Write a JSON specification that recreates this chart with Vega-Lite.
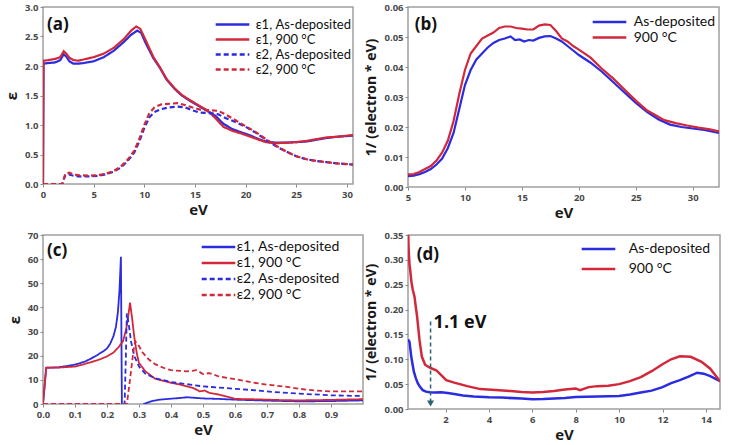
{
"$schema": "https://vega.github.io/schema/vega-lite/v6.json",
"padding": {"left": 3, "top": 1, "right": 5, "bottom": 2},
"bounds": "flush",
"columns": 2,
"spacing": {"row": 48, "column": 45},
"resolve": {"scale": {"color": "independent", "strokeDash": "independent"}, "legend": {"color": "independent", "strokeDash": "independent"}},
"config": {
  "font": "Lato",
  "view": {"stroke": "#a0a0a0", "strokeWidth": 1.5},
  "axis": {"grid": false, "domain": false, "tickCount": 20, "tickColor": "#8a8a8a", "tickSize": 3, "labelFont": "Open Sans", "labelFontSize": 9.5, "labelFontWeight": "bold", "labelColor": "#4a4a4a", "labelPadding": 2, "labelFlush": false, "labelOverlap": false, "titleFont": "Open Sans", "titleFontSize": 15, "titleFontWeight": "bold", "titleColor": "#1a1a1a"},
  "axisX": {"titlePadding": 4},
  "axisY": {"titlePadding": 5},
  "legend": {"orient": "none", "symbolType": "M-2.8,0H2.8", "symbolSize": 144, "symbolStrokeWidth": 2.5, "labelFont": "Lato", "labelColor": "#111111", "padding": 0},
  "text": {"font": "Open Sans"}
},
"datasets": {
"a": [
{"x":0,"y":0,"s":"ε1, As-deposited"},{"x":0.05,"y":2.04,"s":"ε1, As-deposited"},{"x":0.5,"y":2.05,"s":"ε1, As-deposited"},{"x":1.2,"y":2.06,"s":"ε1, As-deposited"},{"x":1.7,"y":2.1,"s":"ε1, As-deposited"},{"x":2.05,"y":2.2,"s":"ε1, As-deposited"},{"x":2.3,"y":2.16,"s":"ε1, As-deposited"},{"x":2.6,"y":2.08,"s":"ε1, As-deposited"},{"x":3.0,"y":2.04,"s":"ε1, As-deposited"},{"x":3.5,"y":2.04,"s":"ε1, As-deposited"},{"x":4,"y":2.05,"s":"ε1, As-deposited"},{"x":5,"y":2.08,"s":"ε1, As-deposited"},{"x":6,"y":2.15,"s":"ε1, As-deposited"},{"x":7,"y":2.26,"s":"ε1, As-deposited"},{"x":8,"y":2.41,"s":"ε1, As-deposited"},{"x":8.7,"y":2.53,"s":"ε1, As-deposited"},{"x":9.3,"y":2.6,"s":"ε1, As-deposited"},{"x":9.7,"y":2.56,"s":"ε1, As-deposited"},{"x":10.1,"y":2.4,"s":"ε1, As-deposited"},{"x":10.9,"y":2.13,"s":"ε1, As-deposited"},{"x":11.5,"y":1.98,"s":"ε1, As-deposited"},{"x":12.2,"y":1.77,"s":"ε1, As-deposited"},{"x":13,"y":1.61,"s":"ε1, As-deposited"},{"x":13.7,"y":1.5,"s":"ε1, As-deposited"},{"x":14.5,"y":1.41,"s":"ε1, As-deposited"},{"x":15.3,"y":1.33,"s":"ε1, As-deposited"},{"x":16.2,"y":1.24,"s":"ε1, As-deposited"},{"x":17,"y":1.16,"s":"ε1, As-deposited"},{"x":17.8,"y":1.02,"s":"ε1, As-deposited"},{"x":18.7,"y":0.93,"s":"ε1, As-deposited"},{"x":19.5,"y":0.88,"s":"ε1, As-deposited"},{"x":20.5,"y":0.82,"s":"ε1, As-deposited"},{"x":21.3,"y":0.76,"s":"ε1, As-deposited"},{"x":22,"y":0.72,"s":"ε1, As-deposited"},{"x":23,"y":0.7,"s":"ε1, As-deposited"},{"x":24,"y":0.7,"s":"ε1, As-deposited"},{"x":25,"y":0.71,"s":"ε1, As-deposited"},{"x":26,"y":0.72,"s":"ε1, As-deposited"},{"x":27,"y":0.75,"s":"ε1, As-deposited"},{"x":28,"y":0.78,"s":"ε1, As-deposited"},{"x":29,"y":0.8,"s":"ε1, As-deposited"},{"x":30.6,"y":0.82,"s":"ε1, As-deposited"},
{"x":0,"y":0,"s":"ε1, 900 °C"},{"x":0.05,"y":2.09,"s":"ε1, 900 °C"},{"x":0.5,"y":2.1,"s":"ε1, 900 °C"},{"x":1.2,"y":2.12,"s":"ε1, 900 °C"},{"x":1.7,"y":2.15,"s":"ε1, 900 °C"},{"x":2.05,"y":2.25,"s":"ε1, 900 °C"},{"x":2.3,"y":2.21,"s":"ε1, 900 °C"},{"x":2.6,"y":2.14,"s":"ε1, 900 °C"},{"x":3.0,"y":2.1,"s":"ε1, 900 °C"},{"x":3.5,"y":2.09,"s":"ε1, 900 °C"},{"x":4,"y":2.11,"s":"ε1, 900 °C"},{"x":5,"y":2.15,"s":"ε1, 900 °C"},{"x":6,"y":2.21,"s":"ε1, 900 °C"},{"x":7,"y":2.31,"s":"ε1, 900 °C"},{"x":8,"y":2.46,"s":"ε1, 900 °C"},{"x":8.7,"y":2.6,"s":"ε1, 900 °C"},{"x":9.2,"y":2.67,"s":"ε1, 900 °C"},{"x":9.6,"y":2.63,"s":"ε1, 900 °C"},{"x":10.1,"y":2.45,"s":"ε1, 900 °C"},{"x":10.9,"y":2.15,"s":"ε1, 900 °C"},{"x":11.5,"y":1.99,"s":"ε1, 900 °C"},{"x":12.2,"y":1.78,"s":"ε1, 900 °C"},{"x":13,"y":1.62,"s":"ε1, 900 °C"},{"x":13.7,"y":1.51,"s":"ε1, 900 °C"},{"x":14.5,"y":1.42,"s":"ε1, 900 °C"},{"x":15.3,"y":1.34,"s":"ε1, 900 °C"},{"x":16.2,"y":1.25,"s":"ε1, 900 °C"},{"x":17,"y":1.12,"s":"ε1, 900 °C"},{"x":17.8,"y":0.97,"s":"ε1, 900 °C"},{"x":18.7,"y":0.9,"s":"ε1, 900 °C"},{"x":19.5,"y":0.86,"s":"ε1, 900 °C"},{"x":20.5,"y":0.8,"s":"ε1, 900 °C"},{"x":21.3,"y":0.75,"s":"ε1, 900 °C"},{"x":22,"y":0.71,"s":"ε1, 900 °C"},{"x":23,"y":0.69,"s":"ε1, 900 °C"},{"x":24,"y":0.7,"s":"ε1, 900 °C"},{"x":25,"y":0.71,"s":"ε1, 900 °C"},{"x":26,"y":0.73,"s":"ε1, 900 °C"},{"x":27,"y":0.76,"s":"ε1, 900 °C"},{"x":28,"y":0.79,"s":"ε1, 900 °C"},{"x":29,"y":0.8,"s":"ε1, 900 °C"},{"x":30.6,"y":0.83,"s":"ε1, 900 °C"},
{"x":0,"y":0,"s":"ε2, As-deposited"},{"x":1.9,"y":0,"s":"ε2, As-deposited"},{"x":2.2,"y":0.15,"s":"ε2, As-deposited"},{"x":2.6,"y":0.16,"s":"ε2, As-deposited"},{"x":3.0,"y":0.14,"s":"ε2, As-deposited"},{"x":3.5,"y":0.13,"s":"ε2, As-deposited"},{"x":4.5,"y":0.13,"s":"ε2, As-deposited"},{"x":5.5,"y":0.14,"s":"ε2, As-deposited"},{"x":6.3,"y":0.17,"s":"ε2, As-deposited"},{"x":7,"y":0.21,"s":"ε2, As-deposited"},{"x":7.7,"y":0.28,"s":"ε2, As-deposited"},{"x":8.3,"y":0.38,"s":"ε2, As-deposited"},{"x":9,"y":0.53,"s":"ε2, As-deposited"},{"x":9.5,"y":0.72,"s":"ε2, As-deposited"},{"x":10,"y":0.95,"s":"ε2, As-deposited"},{"x":10.5,"y":1.13,"s":"ε2, As-deposited"},{"x":11,"y":1.22,"s":"ε2, As-deposited"},{"x":11.7,"y":1.27,"s":"ε2, As-deposited"},{"x":12.5,"y":1.3,"s":"ε2, As-deposited"},{"x":13.3,"y":1.31,"s":"ε2, As-deposited"},{"x":14,"y":1.3,"s":"ε2, As-deposited"},{"x":14.7,"y":1.25,"s":"ε2, As-deposited"},{"x":15.5,"y":1.21,"s":"ε2, As-deposited"},{"x":16.5,"y":1.2,"s":"ε2, As-deposited"},{"x":17.3,"y":1.18,"s":"ε2, As-deposited"},{"x":18,"y":1.12,"s":"ε2, As-deposited"},{"x":19,"y":1.05,"s":"ε2, As-deposited"},{"x":20,"y":0.97,"s":"ε2, As-deposited"},{"x":21,"y":0.87,"s":"ε2, As-deposited"},{"x":22,"y":0.75,"s":"ε2, As-deposited"},{"x":23,"y":0.64,"s":"ε2, As-deposited"},{"x":24,"y":0.55,"s":"ε2, As-deposited"},{"x":25,"y":0.47,"s":"ε2, As-deposited"},{"x":26,"y":0.42,"s":"ε2, As-deposited"},{"x":27,"y":0.39,"s":"ε2, As-deposited"},{"x":28,"y":0.37,"s":"ε2, As-deposited"},{"x":29,"y":0.35,"s":"ε2, As-deposited"},{"x":30.6,"y":0.33,"s":"ε2, As-deposited"},
{"x":0,"y":0,"s":"ε2, 900 °C"},{"x":1.9,"y":0,"s":"ε2, 900 °C"},{"x":2.2,"y":0.17,"s":"ε2, 900 °C"},{"x":2.6,"y":0.19,"s":"ε2, 900 °C"},{"x":3.0,"y":0.16,"s":"ε2, 900 °C"},{"x":3.5,"y":0.15,"s":"ε2, 900 °C"},{"x":4.5,"y":0.14,"s":"ε2, 900 °C"},{"x":5.5,"y":0.15,"s":"ε2, 900 °C"},{"x":6.3,"y":0.18,"s":"ε2, 900 °C"},{"x":7,"y":0.22,"s":"ε2, 900 °C"},{"x":7.7,"y":0.3,"s":"ε2, 900 °C"},{"x":8.3,"y":0.4,"s":"ε2, 900 °C"},{"x":9,"y":0.56,"s":"ε2, 900 °C"},{"x":9.5,"y":0.76,"s":"ε2, 900 °C"},{"x":10,"y":1.0,"s":"ε2, 900 °C"},{"x":10.5,"y":1.2,"s":"ε2, 900 °C"},{"x":11,"y":1.3,"s":"ε2, 900 °C"},{"x":11.7,"y":1.35,"s":"ε2, 900 °C"},{"x":12.5,"y":1.36,"s":"ε2, 900 °C"},{"x":13.3,"y":1.37,"s":"ε2, 900 °C"},{"x":14,"y":1.34,"s":"ε2, 900 °C"},{"x":14.7,"y":1.3,"s":"ε2, 900 °C"},{"x":15.5,"y":1.26,"s":"ε2, 900 °C"},{"x":16.5,"y":1.25,"s":"ε2, 900 °C"},{"x":17.3,"y":1.24,"s":"ε2, 900 °C"},{"x":18,"y":1.18,"s":"ε2, 900 °C"},{"x":19,"y":1.08,"s":"ε2, 900 °C"},{"x":20,"y":0.98,"s":"ε2, 900 °C"},{"x":21,"y":0.88,"s":"ε2, 900 °C"},{"x":22,"y":0.76,"s":"ε2, 900 °C"},{"x":23,"y":0.65,"s":"ε2, 900 °C"},{"x":24,"y":0.55,"s":"ε2, 900 °C"},{"x":25,"y":0.47,"s":"ε2, 900 °C"},{"x":26,"y":0.42,"s":"ε2, 900 °C"},{"x":27,"y":0.39,"s":"ε2, 900 °C"},{"x":28,"y":0.37,"s":"ε2, 900 °C"},{"x":29,"y":0.35,"s":"ε2, 900 °C"},{"x":30.6,"y":0.33,"s":"ε2, 900 °C"}
],
"b": [
{"x":5,"y":0.0036,"s":"As-deposited"},{"x":5.5,"y":0.0038,"s":"As-deposited"},{"x":6,"y":0.0043,"s":"As-deposited"},{"x":6.5,"y":0.005,"s":"As-deposited"},{"x":7,"y":0.006,"s":"As-deposited"},{"x":7.5,"y":0.0075,"s":"As-deposited"},{"x":8,"y":0.0095,"s":"As-deposited"},{"x":8.5,"y":0.013,"s":"As-deposited"},{"x":9,"y":0.018,"s":"As-deposited"},{"x":9.5,"y":0.026,"s":"As-deposited"},{"x":10,"y":0.034,"s":"As-deposited"},{"x":10.5,"y":0.039,"s":"As-deposited"},{"x":11,"y":0.0425,"s":"As-deposited"},{"x":11.5,"y":0.0445,"s":"As-deposited"},{"x":12,"y":0.0465,"s":"As-deposited"},{"x":12.5,"y":0.048,"s":"As-deposited"},{"x":13,"y":0.049,"s":"As-deposited"},{"x":13.5,"y":0.0495,"s":"As-deposited"},{"x":14,"y":0.0502,"s":"As-deposited"},{"x":14.4,"y":0.049,"s":"As-deposited"},{"x":14.8,"y":0.0492,"s":"As-deposited"},{"x":15.2,"y":0.0485,"s":"As-deposited"},{"x":15.6,"y":0.049,"s":"As-deposited"},{"x":16,"y":0.0488,"s":"As-deposited"},{"x":16.5,"y":0.0497,"s":"As-deposited"},{"x":17,"y":0.0502,"s":"As-deposited"},{"x":17.5,"y":0.0503,"s":"As-deposited"},{"x":18,"y":0.0495,"s":"As-deposited"},{"x":18.5,"y":0.0485,"s":"As-deposited"},{"x":19,"y":0.047,"s":"As-deposited"},{"x":19.5,"y":0.0455,"s":"As-deposited"},{"x":20,"y":0.044,"s":"As-deposited"},{"x":21,"y":0.0415,"s":"As-deposited"},{"x":22,"y":0.0385,"s":"As-deposited"},{"x":23,"y":0.035,"s":"As-deposited"},{"x":24,"y":0.0315,"s":"As-deposited"},{"x":25,"y":0.028,"s":"As-deposited"},{"x":26,"y":0.025,"s":"As-deposited"},{"x":27,"y":0.0225,"s":"As-deposited"},{"x":28,"y":0.0208,"s":"As-deposited"},{"x":29,"y":0.02,"s":"As-deposited"},{"x":30,"y":0.0195,"s":"As-deposited"},{"x":31,"y":0.019,"s":"As-deposited"},{"x":32.3,"y":0.018,"s":"As-deposited"},
{"x":5,"y":0.0042,"s":"900 °C"},{"x":5.5,"y":0.0043,"s":"900 °C"},{"x":6,"y":0.005,"s":"900 °C"},{"x":6.5,"y":0.006,"s":"900 °C"},{"x":7,"y":0.007,"s":"900 °C"},{"x":7.5,"y":0.0088,"s":"900 °C"},{"x":8,"y":0.0115,"s":"900 °C"},{"x":8.5,"y":0.0155,"s":"900 °C"},{"x":9,"y":0.022,"s":"900 °C"},{"x":9.5,"y":0.031,"s":"900 °C"},{"x":10,"y":0.039,"s":"900 °C"},{"x":10.5,"y":0.0445,"s":"900 °C"},{"x":11,"y":0.047,"s":"900 °C"},{"x":11.5,"y":0.0495,"s":"900 °C"},{"x":12,"y":0.0505,"s":"900 °C"},{"x":12.5,"y":0.0515,"s":"900 °C"},{"x":13,"y":0.053,"s":"900 °C"},{"x":13.5,"y":0.0535,"s":"900 °C"},{"x":14,"y":0.0535,"s":"900 °C"},{"x":14.5,"y":0.053,"s":"900 °C"},{"x":15,"y":0.0528,"s":"900 °C"},{"x":15.5,"y":0.0525,"s":"900 °C"},{"x":16,"y":0.0525,"s":"900 °C"},{"x":16.5,"y":0.0538,"s":"900 °C"},{"x":17,"y":0.0542,"s":"900 °C"},{"x":17.5,"y":0.054,"s":"900 °C"},{"x":18,"y":0.052,"s":"900 °C"},{"x":18.5,"y":0.0495,"s":"900 °C"},{"x":19,"y":0.0485,"s":"900 °C"},{"x":19.5,"y":0.047,"s":"900 °C"},{"x":20,"y":0.0458,"s":"900 °C"},{"x":21,"y":0.0432,"s":"900 °C"},{"x":22,"y":0.0395,"s":"900 °C"},{"x":23,"y":0.0362,"s":"900 °C"},{"x":24,"y":0.0325,"s":"900 °C"},{"x":25,"y":0.0288,"s":"900 °C"},{"x":26,"y":0.0255,"s":"900 °C"},{"x":26.7,"y":0.024,"s":"900 °C"},{"x":27.5,"y":0.0223,"s":"900 °C"},{"x":28.5,"y":0.0213,"s":"900 °C"},{"x":29.5,"y":0.0205,"s":"900 °C"},{"x":30.5,"y":0.0198,"s":"900 °C"},{"x":31.5,"y":0.0192,"s":"900 °C"},{"x":32.3,"y":0.0185,"s":"900 °C"}
],
"c": [
{"x":0,"y":0,"s":"ε1, As-deposited"},{"x":0.01,"y":15,"s":"ε1, As-deposited"},{"x":0.05,"y":15.2,"s":"ε1, As-deposited"},{"x":0.1,"y":16.3,"s":"ε1, As-deposited"},{"x":0.13,"y":17.5,"s":"ε1, As-deposited"},{"x":0.15,"y":18.8,"s":"ε1, As-deposited"},{"x":0.17,"y":20.3,"s":"ε1, As-deposited"},{"x":0.19,"y":22,"s":"ε1, As-deposited"},{"x":0.2,"y":23,"s":"ε1, As-deposited"},{"x":0.21,"y":25,"s":"ε1, As-deposited"},{"x":0.22,"y":28,"s":"ε1, As-deposited"},{"x":0.228,"y":32,"s":"ε1, As-deposited"},{"x":0.234,"y":38,"s":"ε1, As-deposited"},{"x":0.239,"y":47,"s":"ε1, As-deposited"},{"x":0.2435,"y":61,"s":"ε1, As-deposited"},{"x":0.2465,"y":0,"s":"ε1, As-deposited"},{"x":0.26,"y":-6,"s":"ε1, As-deposited"},{"x":0.3,"y":-3,"s":"ε1, As-deposited"},{"x":0.315,"y":0,"s":"ε1, As-deposited"},{"x":0.34,"y":1.2,"s":"ε1, As-deposited"},{"x":0.365,"y":1.8,"s":"ε1, As-deposited"},{"x":0.4,"y":2.2,"s":"ε1, As-deposited"},{"x":0.43,"y":2.5,"s":"ε1, As-deposited"},{"x":0.45,"y":2.8,"s":"ε1, As-deposited"},{"x":0.5,"y":2.3,"s":"ε1, As-deposited"},{"x":0.55,"y":2.1,"s":"ε1, As-deposited"},{"x":0.6,"y":1.8,"s":"ε1, As-deposited"},{"x":0.7,"y":1.4,"s":"ε1, As-deposited"},{"x":0.8,"y":1.1,"s":"ε1, As-deposited"},{"x":0.9,"y":1.2,"s":"ε1, As-deposited"},{"x":1.0,"y":1.5,"s":"ε1, As-deposited"},
{"x":0,"y":0,"s":"ε1, 900 °C"},{"x":0.01,"y":15,"s":"ε1, 900 °C"},{"x":0.05,"y":15.1,"s":"ε1, 900 °C"},{"x":0.1,"y":15.5,"s":"ε1, 900 °C"},{"x":0.15,"y":17.3,"s":"ε1, 900 °C"},{"x":0.18,"y":18.6,"s":"ε1, 900 °C"},{"x":0.2,"y":19.7,"s":"ε1, 900 °C"},{"x":0.22,"y":21.3,"s":"ε1, 900 °C"},{"x":0.236,"y":23.5,"s":"ε1, 900 °C"},{"x":0.25,"y":26,"s":"ε1, 900 °C"},{"x":0.26,"y":31,"s":"ε1, 900 °C"},{"x":0.267,"y":37,"s":"ε1, 900 °C"},{"x":0.272,"y":42,"s":"ε1, 900 °C"},{"x":0.278,"y":36,"s":"ε1, 900 °C"},{"x":0.285,"y":28,"s":"ε1, 900 °C"},{"x":0.293,"y":21,"s":"ε1, 900 °C"},{"x":0.3,"y":17,"s":"ε1, 900 °C"},{"x":0.32,"y":13.5,"s":"ε1, 900 °C"},{"x":0.35,"y":10.5,"s":"ε1, 900 °C"},{"x":0.38,"y":9.5,"s":"ε1, 900 °C"},{"x":0.4,"y":8.8,"s":"ε1, 900 °C"},{"x":0.43,"y":8,"s":"ε1, 900 °C"},{"x":0.45,"y":7.3,"s":"ε1, 900 °C"},{"x":0.47,"y":6.6,"s":"ε1, 900 °C"},{"x":0.49,"y":5.2,"s":"ε1, 900 °C"},{"x":0.505,"y":5.6,"s":"ε1, 900 °C"},{"x":0.52,"y":4.6,"s":"ε1, 900 °C"},{"x":0.55,"y":3.9,"s":"ε1, 900 °C"},{"x":0.58,"y":2.9,"s":"ε1, 900 °C"},{"x":0.6,"y":2.1,"s":"ε1, 900 °C"},{"x":0.65,"y":2,"s":"ε1, 900 °C"},{"x":0.7,"y":1.8,"s":"ε1, 900 °C"},{"x":0.75,"y":1.6,"s":"ε1, 900 °C"},{"x":0.8,"y":1.5,"s":"ε1, 900 °C"},{"x":0.9,"y":1.7,"s":"ε1, 900 °C"},{"x":1.0,"y":2.0,"s":"ε1, 900 °C"},
{"x":0,"y":0,"s":"ε2, As-deposited"},{"x":0.255,"y":0,"s":"ε2, As-deposited"},{"x":0.259,"y":20,"s":"ε2, As-deposited"},{"x":0.262,"y":37.5,"s":"ε2, As-deposited"},{"x":0.268,"y":33,"s":"ε2, As-deposited"},{"x":0.275,"y":26,"s":"ε2, As-deposited"},{"x":0.285,"y":20,"s":"ε2, As-deposited"},{"x":0.3,"y":15.5,"s":"ε2, As-deposited"},{"x":0.32,"y":12.5,"s":"ε2, As-deposited"},{"x":0.35,"y":10.7,"s":"ε2, As-deposited"},{"x":0.4,"y":9.1,"s":"ε2, As-deposited"},{"x":0.45,"y":8.2,"s":"ε2, As-deposited"},{"x":0.5,"y":7.3,"s":"ε2, As-deposited"},{"x":0.55,"y":6.8,"s":"ε2, As-deposited"},{"x":0.6,"y":6.3,"s":"ε2, As-deposited"},{"x":0.65,"y":5.8,"s":"ε2, As-deposited"},{"x":0.7,"y":5.2,"s":"ε2, As-deposited"},{"x":0.75,"y":4.7,"s":"ε2, As-deposited"},{"x":0.8,"y":4.3,"s":"ε2, As-deposited"},{"x":0.9,"y":3.6,"s":"ε2, As-deposited"},{"x":1.0,"y":3.3,"s":"ε2, As-deposited"},
{"x":0,"y":0,"s":"ε2, 900 °C"},{"x":0.262,"y":0,"s":"ε2, 900 °C"},{"x":0.27,"y":8,"s":"ε2, 900 °C"},{"x":0.278,"y":17,"s":"ε2, 900 °C"},{"x":0.284,"y":23,"s":"ε2, 900 °C"},{"x":0.288,"y":26,"s":"ε2, 900 °C"},{"x":0.295,"y":25,"s":"ε2, 900 °C"},{"x":0.3,"y":24,"s":"ε2, 900 °C"},{"x":0.31,"y":21.5,"s":"ε2, 900 °C"},{"x":0.33,"y":18.5,"s":"ε2, 900 °C"},{"x":0.35,"y":16.5,"s":"ε2, 900 °C"},{"x":0.38,"y":14.8,"s":"ε2, 900 °C"},{"x":0.4,"y":14,"s":"ε2, 900 °C"},{"x":0.45,"y":13.5,"s":"ε2, 900 °C"},{"x":0.48,"y":14,"s":"ε2, 900 °C"},{"x":0.5,"y":12.4,"s":"ε2, 900 °C"},{"x":0.52,"y":12.8,"s":"ε2, 900 °C"},{"x":0.55,"y":11.4,"s":"ε2, 900 °C"},{"x":0.6,"y":10.3,"s":"ε2, 900 °C"},{"x":0.65,"y":9,"s":"ε2, 900 °C"},{"x":0.7,"y":8,"s":"ε2, 900 °C"},{"x":0.75,"y":7.3,"s":"ε2, 900 °C"},{"x":0.8,"y":6.3,"s":"ε2, 900 °C"},{"x":0.85,"y":5.6,"s":"ε2, 900 °C"},{"x":0.9,"y":5.2,"s":"ε2, 900 °C"},{"x":1.0,"y":5.2,"s":"ε2, 900 °C"}
],
"d": [
{"x":0.27,"y":0.14,"s":"As-deposited"},{"x":0.34,"y":0.135,"s":"As-deposited"},{"x":0.42,"y":0.105,"s":"As-deposited"},{"x":0.54,"y":0.075,"s":"As-deposited"},{"x":0.63,"y":0.062,"s":"As-deposited"},{"x":0.72,"y":0.052,"s":"As-deposited"},{"x":0.83,"y":0.044,"s":"As-deposited"},{"x":0.95,"y":0.038,"s":"As-deposited"},{"x":1.1,"y":0.035,"s":"As-deposited"},{"x":1.26,"y":0.0335,"s":"As-deposited"},{"x":1.5,"y":0.033,"s":"As-deposited"},{"x":1.8,"y":0.0335,"s":"As-deposited"},{"x":2.1,"y":0.032,"s":"As-deposited"},{"x":2.4,"y":0.03,"s":"As-deposited"},{"x":2.8,"y":0.027,"s":"As-deposited"},{"x":3.3,"y":0.025,"s":"As-deposited"},{"x":4,"y":0.0235,"s":"As-deposited"},{"x":4.6,"y":0.023,"s":"As-deposited"},{"x":5.5,"y":0.021,"s":"As-deposited"},{"x":6,"y":0.0195,"s":"As-deposited"},{"x":6.5,"y":0.02,"s":"As-deposited"},{"x":7,"y":0.021,"s":"As-deposited"},{"x":7.5,"y":0.022,"s":"As-deposited"},{"x":8,"y":0.024,"s":"As-deposited"},{"x":9,"y":0.025,"s":"As-deposited"},{"x":10,"y":0.026,"s":"As-deposited"},{"x":10.5,"y":0.029,"s":"As-deposited"},{"x":11,"y":0.033,"s":"As-deposited"},{"x":11.5,"y":0.037,"s":"As-deposited"},{"x":12,"y":0.044,"s":"As-deposited"},{"x":12.4,"y":0.052,"s":"As-deposited"},{"x":12.8,"y":0.058,"s":"As-deposited"},{"x":13.2,"y":0.065,"s":"As-deposited"},{"x":13.6,"y":0.073,"s":"As-deposited"},{"x":13.9,"y":0.071,"s":"As-deposited"},{"x":14.2,"y":0.066,"s":"As-deposited"},{"x":14.65,"y":0.056,"s":"As-deposited"},
{"x":0.27,"y":0.37,"s":"900 °C"},{"x":0.3,"y":0.32,"s":"900 °C"},{"x":0.34,"y":0.29,"s":"900 °C"},{"x":0.37,"y":0.28,"s":"900 °C"},{"x":0.43,"y":0.255,"s":"900 °C"},{"x":0.49,"y":0.24,"s":"900 °C"},{"x":0.57,"y":0.226,"s":"900 °C"},{"x":0.63,"y":0.205,"s":"900 °C"},{"x":0.69,"y":0.186,"s":"900 °C"},{"x":0.75,"y":0.16,"s":"900 °C"},{"x":0.8,"y":0.139,"s":"900 °C"},{"x":0.86,"y":0.12,"s":"900 °C"},{"x":0.91,"y":0.105,"s":"900 °C"},{"x":1.06,"y":0.089,"s":"900 °C"},{"x":1.2,"y":0.085,"s":"900 °C"},{"x":1.34,"y":0.082,"s":"900 °C"},{"x":1.57,"y":0.078,"s":"900 °C"},{"x":1.8,"y":0.068,"s":"900 °C"},{"x":2.03,"y":0.058,"s":"900 °C"},{"x":2.4,"y":0.053,"s":"900 °C"},{"x":3.0,"y":0.046,"s":"900 °C"},{"x":3.6,"y":0.04,"s":"900 °C"},{"x":4.3,"y":0.038,"s":"900 °C"},{"x":5,"y":0.036,"s":"900 °C"},{"x":5.5,"y":0.034,"s":"900 °C"},{"x":6,"y":0.033,"s":"900 °C"},{"x":6.5,"y":0.034,"s":"900 °C"},{"x":7,"y":0.036,"s":"900 °C"},{"x":7.5,"y":0.039,"s":"900 °C"},{"x":8,"y":0.041,"s":"900 °C"},{"x":8.2,"y":0.038,"s":"900 °C"},{"x":8.6,"y":0.044,"s":"900 °C"},{"x":9,"y":0.046,"s":"900 °C"},{"x":9.5,"y":0.047,"s":"900 °C"},{"x":10,"y":0.05,"s":"900 °C"},{"x":10.5,"y":0.056,"s":"900 °C"},{"x":11,"y":0.064,"s":"900 °C"},{"x":11.5,"y":0.076,"s":"900 °C"},{"x":12,"y":0.09,"s":"900 °C"},{"x":12.4,"y":0.1,"s":"900 °C"},{"x":12.8,"y":0.106,"s":"900 °C"},{"x":13.3,"y":0.105,"s":"900 °C"},{"x":13.8,"y":0.095,"s":"900 °C"},{"x":14.2,"y":0.081,"s":"900 °C"},{"x":14.65,"y":0.056,"s":"900 °C"}
]
},
"concat": [
  {"width": 310, "height": 177,
   "layer": [
    {"data": {"name": "a"},
     "mark": {"type": "line", "strokeWidth": 2.2, "clip": true},
     "encoding": {
      "x": {"field": "x", "type": "quantitative", "scale": {"domain": [0, 30.6], "nice": false, "zero": false}, "axis": {"values": [0,5,10,15,20,25,30], "title": "eV"}},
      "y": {"field": "y", "type": "quantitative", "scale": {"domain": [0, 3], "nice": false}, "axis": {"values": [0,0.5,1,1.5,2,2.5,3], "format": ".1f", "title": "ε"}},
      "color": {"field": "s", "type": "nominal", "scale": {"domain": ["ε1, As-deposited","ε1, 900 °C","ε2, As-deposited","ε2, 900 °C"], "range": ["#2b2be0","#d1283b","#2b2be0","#d1283b"]}, "legend": {"title": null, "legendX": 182, "legendY": 10, "labelOffset": 15.7, "labelFontSize": 13, "rowPadding": -0.5}},
      "strokeDash": {"field": "s", "type": "nominal", "scale": {"domain": ["ε1, As-deposited","ε1, 900 °C","ε2, As-deposited","ε2, 900 °C"], "range": [[1,0],[1,0],[5,3],[5,3]]}, "legend": {"title": null, "legendX": 182, "legendY": 10, "labelOffset": 15.7, "labelFontSize": 13, "rowPadding": -0.5}}
     }},
    {"data": {"values": [{}]},
     "mark": {"type": "text", "text": "(a)", "align": "left", "baseline": "middle", "fontSize": 17, "fontWeight": "bold", "color": "#111111"},
     "encoding": {"x": {"datum": 0.4}, "y": {"datum": 2.69}}}
   ]},
  {"width": 311, "height": 180,
   "layer": [
    {"data": {"name": "b"},
     "mark": {"type": "line", "strokeWidth": 2.2, "clip": true},
     "encoding": {
      "x": {"field": "x", "type": "quantitative", "scale": {"domain": [5, 32.3], "nice": false, "zero": false}, "axis": {"values": [5,10,15,20,25,30], "title": "eV"}},
      "y": {"field": "y", "type": "quantitative", "scale": {"domain": [0, 0.06], "nice": false}, "axis": {"values": [0,0.01,0.02,0.03,0.04,0.05,0.06], "format": ".2f", "title": "1/ (electron * eV)", "titleFontSize": 14}},
      "color": {"field": "s", "type": "nominal", "scale": {"domain": ["As-deposited","900 °C"], "range": ["#2b2be0","#d1283b"]}, "legend": {"title": null, "legendX": 194, "legendY": 7.5, "labelOffset": 16.7, "labelFontSize": 14, "rowPadding": 0.5}}
     }},
    {"data": {"values": [{}]},
     "mark": {"type": "text", "text": "(b)", "align": "left", "baseline": "middle", "fontSize": 17, "fontWeight": "bold", "color": "#111111"},
     "encoding": {"x": {"datum": 5.6}, "y": {"datum": 0.054}}}
   ]},
  {"width": 320, "height": 169,
   "layer": [
    {"data": {"name": "c"},
     "mark": {"type": "line", "strokeWidth": 1.8, "clip": true},
     "encoding": {
      "x": {"field": "x", "type": "quantitative", "scale": {"domain": [0, 1.0], "nice": false, "zero": false}, "axis": {"values": [0,0.1,0.2,0.3,0.4,0.5,0.6,0.7,0.8,0.9], "format": ".1f", "title": "eV"}},
      "y": {"field": "y", "type": "quantitative", "scale": {"domain": [0, 70], "nice": false}, "axis": {"values": [0,10,20,30,40,50,60,70], "title": "ε"}},
      "color": {"field": "s", "type": "nominal", "scale": {"domain": ["ε1, As-deposited","ε1, 900 °C","ε2, As-deposited","ε2, 900 °C"], "range": ["#2b2be0","#d1283b","#2b2be0","#d1283b"]}, "legend": {"title": null, "legendX": 168, "legendY": 4.5, "labelOffset": 10.7, "labelFontSize": 14, "rowPadding": 1}},
      "strokeDash": {"field": "s", "type": "nominal", "scale": {"domain": ["ε1, As-deposited","ε1, 900 °C","ε2, As-deposited","ε2, 900 °C"], "range": [[1,0],[1,0],[5,3],[5,3]]}, "legend": {"title": null, "legendX": 168, "legendY": 4.5, "labelOffset": 10.7, "labelFontSize": 14, "rowPadding": 1}}
     }},
    {"data": {"values": [{}]},
     "mark": {"type": "text", "text": "(c)", "align": "left", "baseline": "middle", "fontSize": 17, "fontWeight": "bold", "color": "#111111"},
     "encoding": {"x": {"datum": 0.0125}, "y": {"datum": 63.4}}}
   ]},
  {"width": 312, "height": 174,
   "layer": [
    {"data": {"name": "d"},
     "mark": {"type": "line", "strokeWidth": 2.5, "clip": true},
     "encoding": {
      "x": {"field": "x", "type": "quantitative", "scale": {"domain": [0.27, 14.65], "nice": false, "zero": false}, "axis": {"values": [2,4,6,8,10,12,14], "title": "eV"}},
      "y": {"field": "y", "type": "quantitative", "scale": {"domain": [0, 0.35], "nice": false}, "axis": {"values": [0,0.05,0.1,0.15,0.2,0.25,0.3,0.35], "format": ".2f", "title": "1/ (electron * eV)", "titleFontSize": 14}},
      "color": {"field": "s", "type": "nominal", "scale": {"domain": ["As-deposited","900 °C"], "range": ["#2b2be0","#d1283b"]}, "legend": {"title": null, "legendX": 183, "legendY": 6.5, "labelOffset": 22.7, "labelFontSize": 14, "rowPadding": 5}}
     }},
    {"data": {"values": [{}]},
     "mark": {"type": "rule", "color": "#2b6373", "strokeWidth": 1.5, "strokeDash": [4, 3]},
     "encoding": {"x": {"datum": 1.31}, "y": {"datum": 0.176}, "y2": {"datum": 0.016}}},
    {"data": {"values": [{}]},
     "mark": {"type": "point", "shape": "triangle-down", "filled": true, "color": "#2b6373", "size": 50, "opacity": 1},
     "encoding": {"x": {"datum": 1.31}, "y": {"datum": 0.011}}},
    {"data": {"values": [{}]},
     "mark": {"type": "text", "text": "1.1 eV", "align": "left", "baseline": "middle", "fontSize": 18, "fontWeight": "bold", "color": "#111111"},
     "encoding": {"x": {"datum": 1.45}, "y": {"datum": 0.172}}},
    {"data": {"values": [{}]},
     "mark": {"type": "text", "text": "(d)", "align": "left", "baseline": "middle", "fontSize": 17, "fontWeight": "bold", "color": "#111111"},
     "encoding": {"x": {"datum": 0.67}, "y": {"datum": 0.31}}}
   ]}
]
}
